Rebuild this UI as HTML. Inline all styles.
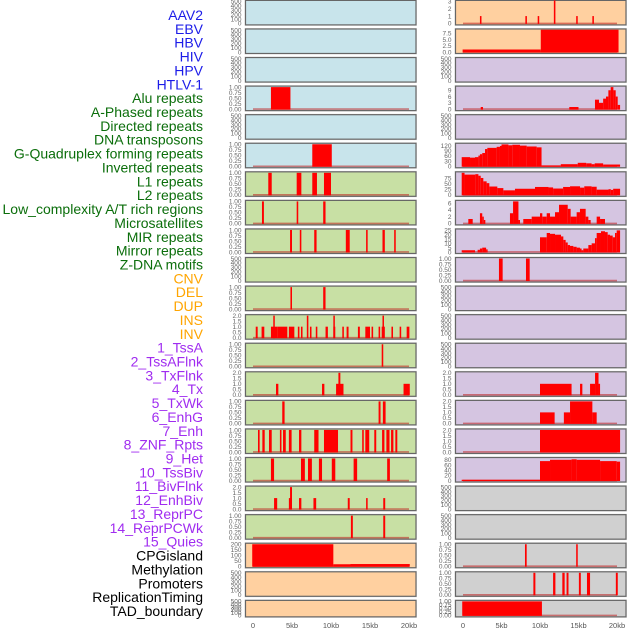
<!DOCTYPE html>
<html><head><meta charset="utf-8"><style>
html,body{margin:0;padding:0;background:#fff;}
svg{display:block;font-family:"Liberation Sans",sans-serif;}
</style></head><body>
<svg id="chart" width="630" height="630" viewBox="0 0 630 630" xmlns="http://www.w3.org/2000/svg"></svg>
<script>
const trackLabels = ["AAV2","EBV","HBV","HIV","HPV","HTLV-1","Alu repeats","A-Phased repeats","Directed repeats","DNA transposons","G-Quadruplex forming repeats","Inverted repeats","L1 repeats","L2 repeats","Low_complexity A/T rich regions","Microsatellites","MIR repeats","Mirror repeats","Z-DNA motifs","CNV","DEL","DUP","INS","INV","1_TssA","2_TssAFlnk","3_TxFlnk","4_Tx","5_TxWk","6_EnhG","7_Enh","8_ZNF_Rpts","9_Het","10_TssBiv","11_BivFlnk","12_EnhBiv","13_ReprPC","14_ReprPCWk","15_Quies","CPGisland","Methylation","Promoters","ReplicationTiming","TAD_boundary"];
const labelGroupSizes = [6,13,5,15,5];
const labelGroupColors = ["#1c1ce8","#0b6e0b","#ffa500","#a02cf0","#000000"];
const xTickLabels = ["0","5kb","10kb","15kb","20kb"];
const xTickValues = [0,5,10,15,20];

const ticksEmpty = ["0","100","200","300","400","500"];
const ticksUnit = ["0.00","0.25","0.50","0.75","1.00"];
const ticksTwo = ["0.0","0.5","1.0","1.5","2.0"];

// left column bars [startKb, endKb, value]
const L3 = [[2.3,4.8,1]];
const L5 = [[7.6,10.1,1]];
const L6 = [[1.96,2.4,1],[5.6,6.2,1],[7.6,8.2,1],[9.1,10,1]];
const L7 = [[1.15,1.4,1],[5.6,5.8,1],[9.0,9.3,1]];
const L8 = [[4.75,5.0,1],[6.0,6.2,1],[7.85,8.15,1],[11.9,12.4,1],[14.5,14.7,1],[16.6,16.9,1],[18.1,18.3,1]];
const L10 = [[4.8,5.0,1],[9.0,9.3,1]];
const L11 = [[0.35,0.6,1],[1.1,1.45,1],[2.3,3.1,1],[2.6,2.75,2],[3.1,4.4,1],[4.6,5.3,1],[5.75,5.95,1],[6.15,6.35,1],[6.9,7.1,2],[7.3,7.5,1],[8.05,8.25,1],[9.3,9.6,1],[10.3,10.55,1],[10.3,10.45,2],[11.45,11.65,1],[12.0,12.25,1],[13.45,13.7,1],[14.4,15.0,1],[15.2,15.4,1],[16.1,16.3,1],[16.5,16.9,1],[16.6,16.75,2],[17.75,17.95,1],[18.8,19.0,1],[19.7,20.05,1]];
const L12 = [[16.5,16.7,1]];
const L13 = [[2.95,3.25,1],[8.85,9.15,1],[10.65,11.6,1],[10.95,11.2,2],[19.3,20.1,1]];
const L14 = [[3.75,4.05,1],[16.1,16.35,1],[16.65,17.0,1]];
const L15 = [[0.64,0.85,1],[1.2,1.5,1],[2.05,2.4,1],[3.45,3.65,1],[3.85,4.2,1],[4.6,4.95,1],[5.9,6.2,1],[7.85,8.4,1],[9.1,10.9,1],[12.5,12.75,1],[14.0,14.2,1],[14.4,14.9,1],[15.55,15.8,1],[16.55,16.85,1],[17.1,17.5,1],[17.7,18.0,1],[18.25,18.5,1]];
const L16 = [[2.3,2.7,1],[6.15,6.65,1],[7.05,7.55,1],[8.45,8.85,1],[10.1,10.55,1],[12.9,13.35,1],[17.2,17.55,1]];
const L17 = [[2.7,3.1,1],[4.6,4.85,1],[4.75,5.0,2],[5.9,6.2,1],[7.75,8.1,1],[12.15,12.4,1],[14.5,14.7,1],[16.7,16.95,1]];
const L18 = [[12.55,12.8,1],[16.7,16.95,1]];
const L19 = [[-0.1,10.3,200],[10.3,12.5,18],[12.5,20.1,20]];

// right column bars
const R0 = [[2.2,2.4,1],[8.1,8.3,1],[9.7,9.9,1],[11.8,12.0,4],[14.7,14.9,1],[16.8,17.0,1]];
const R1 = [[-0.05,10.1,1],[10.1,20.2,9]];
const R3 = [[2.3,2.6,1],[13.8,15.0,1],[17.14,17.66,4.5],[17.66,18.2,3],[18.2,18.57,5],[18.57,18.88,6],[18.88,19.18,9],[19.18,19.53,10.5],[19.53,19.83,9],[19.83,20.09,6],[20.09,20.4,2]];
const R5 = [[-0.17,0.91,53],[0.91,1.56,50],[1.56,2.0,53],[2.0,2.2,62],[2.2,2.5,70],[2.5,2.86,77],[2.86,3.16,100],[3.16,4.37,107],[4.37,4.8,113],[4.8,5.0,118],[5.0,5.9,127],[5.9,6.4,122],[6.4,7.4,125],[7.4,8.27,120],[8.27,9.57,115],[9.57,10.2,110],[10.2,12.7,5],[12.7,14.9,12],[14.9,16.0,20],[16.0,16.7,17],[16.7,17.1,12],[17.1,18.2,17],[18.2,20.4,10]];
const R6 = [[-0.17,0.2,98],[0.2,1.6,90],[1.6,2.0,92],[2.0,2.3,85],[2.3,2.64,75],[2.64,3.07,60],[3.07,3.42,52],[3.42,4.46,37],[4.46,5.24,30],[5.24,6.75,20],[6.75,9.35,27],[9.35,11.1,35],[11.1,11.7,33],[11.7,13.0,28],[13.0,13.9,35],[13.9,15.2,38],[15.2,15.75,32],[15.75,16.7,38],[16.7,17.36,36],[17.36,18.9,23],[18.9,19.2,25],[19.2,19.5,22],[19.5,20.4,27]];
const R7 = [[0.69,1.26,1.3],[2.2,2.5,3],[2.5,2.7,2],[2.7,2.9,1],[6.1,6.5,3],[6.5,7.2,6.5],[7.2,7.4,1],[7.83,8.92,1.3],[8.92,10.0,2],[10.0,10.3,3],[10.3,10.87,2],[10.87,11.3,3],[11.3,11.95,2],[11.95,12.47,3.3],[12.47,13.6,5.5],[13.6,13.98,4.3],[13.98,14.76,2],[14.76,15.19,3.3],[15.19,15.93,4.3],[15.93,16.28,2],[16.28,16.58,1],[17.36,17.8,2],[17.8,18.44,1.3]];
const R8 = [[-0.17,1.56,2],[1.9,2.2,2.5],[2.2,2.5,4],[2.5,3.0,5],[3.0,3.15,3],[10.0,10.87,17],[10.87,11.3,22],[11.3,11.95,21],[11.95,12.73,20],[12.73,13.03,18],[13.03,13.33,14],[13.33,13.6,11],[13.6,13.9,8],[13.9,14.33,7],[14.33,14.76,6],[14.76,15.19,5],[15.19,15.4,4],[15.4,15.62,2],[15.62,16.28,4],[16.28,16.71,8],[16.71,17.14,10],[17.14,17.36,16],[17.36,17.92,22],[17.92,18.44,24],[18.44,18.79,23],[18.79,19.09,20],[19.09,19.44,19],[19.44,19.74,17],[19.74,19.96,22],[19.96,20.4,25]];
const R9 = [[4.67,5.15,1],[8.18,8.66,1]];
const R13 = [[10.0,14.1,1],[15.2,15.5,1],[16.5,17.15,1],[17.15,17.6,2],[17.6,17.8,1]];
const R14 = [[10.0,11.9,1],[13.1,13.9,1],[13.9,16.8,2],[16.8,17.36,1]];
const R15 = [[10.0,20.4,2]];
const R16 = [[-0.17,10.0,3],[10.0,11.3,75],[11.3,14.1,80],[14.1,14.76,82],[14.76,17.8,80],[17.8,19.96,75],[19.96,20.4,73]];
const R19 = [[8.05,8.27,1],[14.7,14.9,1]];
const R20 = [[9.14,9.4,1],[11.7,12.0,1],[12.9,13.2,1],[13.45,13.7,1],[15.05,15.3,1],[16.1,16.5,1],[19.85,20.1,1]];
const R21 = [[-0.1,10.25,1]];

const BLUE="#c8e4eb", GREEN="#c8e0a4", ORANGE="#ffd0a0", PURPLE="#d5c5e1", GRAY="#d0d0d0";
const leftSpecs = [
 [BLUE,null],[BLUE,null],[BLUE,null],[BLUE,L3,1,ticksUnit],[BLUE,null],[BLUE,L5,1,ticksUnit],
 [GREEN,L6,1,ticksUnit],[GREEN,L7,1,ticksUnit],[GREEN,L8,1,ticksUnit],[GREEN,null],[GREEN,L10,1,ticksUnit],
 [GREEN,L11,2,ticksTwo],[GREEN,L12,1,ticksUnit],[GREEN,L13,2,ticksTwo],[GREEN,L14,1,ticksUnit],[GREEN,L15,1,ticksUnit],
 [GREEN,L16,1,ticksUnit],[GREEN,L17,2,ticksTwo],[GREEN,L18,1,ticksUnit],[ORANGE,L19,200,["0","50","100","150","200"]],
 [ORANGE,null],[ORANGE,null]];
const rightSpecs = [
 [ORANGE,R0,3,["0","1","2","3"]],[ORANGE,R1,8.9,["0.0","2.5","5.0","7.5"]],[PURPLE,null],[PURPLE,R3,10.5,["0","3","6","9"]],
 [PURPLE,null],[PURPLE,R5,128,["0","30","60","90","120"]],[PURPLE,R6,98,["0","25","50","75"]],[PURPLE,R7,6.5,["0","2","4","6"]],
 [PURPLE,R8,25.5,["0","5","10","15","20","25"]],[PURPLE,R9,1,ticksUnit],[PURPLE,null],[PURPLE,null],[PURPLE,null],
 [PURPLE,R13,2,ticksTwo],[PURPLE,R14,2,ticksTwo],[PURPLE,R15,2,ticksTwo],[PURPLE,R16,85,["0","20","40","60","80"]],
 [GRAY,null],[GRAY,null],[GRAY,R19,1,ticksUnit],[GRAY,R20,1,ticksUnit],[GRAY,R21,1,ticksUnit]];

const NS="http://www.w3.org/2000/svg";
const svg=document.getElementById('chart');
function mk(tag,attrs,parent){const e=document.createElementNS(NS,tag);for(const k in attrs)e.setAttribute(k,attrs[k]);(parent||svg).appendChild(e);return e;}

// labels
let li=0;
labelGroupSizes.forEach((n,g)=>{for(let k=0;k<n;k++){
  const t=mk('text',{x:203,y:15+li*13.86+5,'text-anchor':'end','font-size':'14',fill:labelGroupColors[g]});
  t.textContent=trackLabels[li];
  
  
  li++;}});

const cols=[{x0:245.5,x1:416,zero:253,k:7.8,name:'left'},{x0:455.5,x1:626,zero:463,k:7.7,name:'right'}];
function rowTop(i){return 0.4+i*28.57;}
function rowH(i){return i===21?16.5:24.5;}

[leftSpecs,rightSpecs].forEach((specs,ci)=>{
  const c=cols[ci];
  const xs=v=>c.zero+v*c.k;
  specs.forEach((sp,ri)=>{
    const top=rowTop(ri),h=rowH(ri),bot=top+h;
    const g=mk('g',{});
    
    
    mk('rect',{x:c.x0-1,y:top-1,width:c.x1-c.x0+2,height:h+2,fill:'#e8e8e8'},g);
    mk('rect',{x:c.x0,y:top,width:c.x1-c.x0,height:h,fill:sp[0],stroke:'#666',"stroke-width":1.2},g);
    const bars=sp[1];
    const ymax=bars?sp[2]:500;
    const ticks=bars?sp[3]:ticksEmpty;
    const ys=v=>bot-1.5-v/ymax*(h-2.5);
    ticks.forEach(tl=>{
      const t=mk('text',{x:c.x0-4,y:ys(parseFloat(tl))+2.3,'text-anchor':'end','font-size':'6.5',fill:'#666'},g);
      t.textContent=tl;
      
      
    });
    if(bars){
      const cid='clip'+ci+'_'+ri;
      const cp=mk('clipPath',{id:cid},g);
      mk('rect',{x:c.x0,y:top,width:c.x1-c.x0,height:h},cp);
      const bg=mk('g',{'clip-path':'url(#'+cid+')'},g);
      const base=mk('line',{x1:xs(0),x2:xs(20),y1:ys(0),y2:ys(0),stroke:'rgba(190,30,30,0.55)','stroke-width':1.6},bg);
      
      
      bars.forEach(b=>{
        const x=xs(b[0]),w=Math.max(1.5,xs(b[1])-xs(b[0]));
        const y=ys(b[2]);
        const r=mk('rect',{x:x,y:y,width:w,height:ys(0)-y+0.5,fill:'#ff0000'},bg);
        
        
      });
    }
  });
  xTickValues.forEach((v,i)=>{
    const t=mk('text',{x:xs(v),y:628,'text-anchor':'middle','font-size':'7.5',fill:'#555'});
    t.textContent=xTickLabels[i];
    
    
  });
});
</script>
</body></html>
